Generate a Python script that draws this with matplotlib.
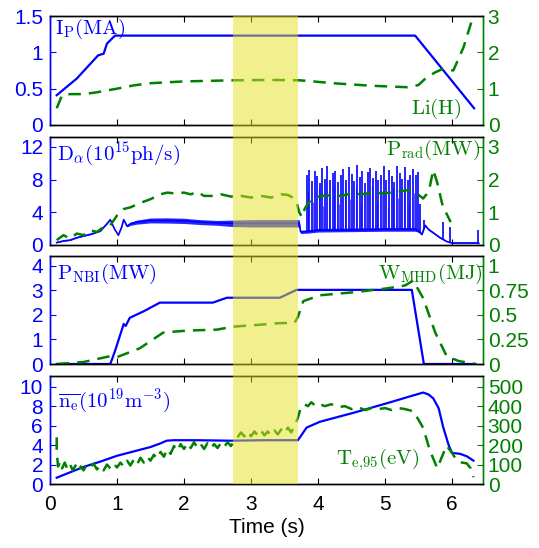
import numpy as np
import matplotlib
matplotlib.use("Agg")
import matplotlib.pyplot as plt
import matplotlib.transforms as mtransforms
from matplotlib.patches import Rectangle
from matplotlib.ticker import FormatStrFormatter

plt.rcParams['font.family'] = ['Liberation Sans', 'DejaVu Sans']
plt.rcParams['mathtext.fontset'] = 'cm'

BLUE = (0, 0, 1)
GREEN = (0, 0.5, 0)

# ---------------- data ----------------
# panel 1: plasma current (MA) and internal inductance
t_ip = [0.10, 0.40, 0.72, 0.80, 0.85, 0.97, 2.00, 5.45, 6.33]
ip = [0.41, 0.64, 0.96, 0.98, 1.12, 1.23, 1.23, 1.23, 0.23]

t_li = [0.10, 0.18, 0.30, 0.50, 0.70, 1.00, 1.25, 1.50, 2.00, 2.73, 3.30, 3.73,
        4.30, 4.80, 5.33, 5.50, 5.62, 5.75, 5.87, 6.02, 6.17, 6.30]
li = [0.46, 0.82, 0.85, 0.85, 0.90, 1.00, 1.09, 1.15, 1.20, 1.23, 1.24, 1.23,
      1.14, 1.08, 1.04, 1.10, 1.31, 1.45, 1.55, 1.50, 2.13, 2.90]

# panel 2: D-alpha (1e15 ph/s) with noise half-width, ELM spikes, Prad (MW)
t_da = [0.10, 0.20, 0.30, 0.40, 0.50, 0.60, 0.75, 0.85, 0.90, 0.96, 1.02, 1.07,
        1.10, 1.15, 1.20, 1.30, 1.50, 1.74, 2.00, 2.24, 2.50, 2.73, 3.00, 3.30,
        3.60, 3.72, 3.74, 3.85, 4.00, 4.50, 5.00, 5.45, 5.50, 5.55, 5.60, 5.65,
        5.72, 5.82, 5.93, 6.00, 6.38, 6.40]
da = [0.3, 0.5, 0.6, 0.9, 1.1, 1.3, 1.7, 2.6, 3.1, 2.0, 1.2, 2.2,
      3.1, 2.3, 2.6, 2.8, 3.0, 3.0, 2.95, 2.8, 2.7, 2.65, 2.65, 2.65,
      2.65, 2.65, 1.6, 1.65, 1.8, 1.85, 1.9, 1.9, 1.7, 1.3, 2.4, 1.9,
      1.5, 0.9, 0.4, 0.25, 0.25, 0.2]
da_noise = [0.05, 0.05, 0.05, 0.05, 0.05, 0.05, 0.05, 0.05, 0.05, 0.05, 0.05, 0.05,
            0.05, 0.1, 0.2, 0.25, 0.3, 0.32, 0.32, 0.3, 0.3, 0.4, 0.45, 0.45,
            0.45, 0.45, 0.2, 0.2, 0.22, 0.22, 0.22, 0.22, 0.15, 0.1, 0.1, 0.1,
            0.1, 0.1, 0.05, 0.05, 0.05, 0.05]

elm_t = [3.84, 3.87, 3.91, 3.95, 3.99, 4.03, 4.06, 4.10, 4.14, 4.18, 4.22, 4.26,
         4.30, 4.34, 4.38, 4.42, 4.46, 4.50, 4.54, 4.58, 4.62, 4.66, 4.70, 4.74,
         4.78, 4.82, 4.86, 4.90, 4.94, 4.98, 5.02, 5.06, 5.10, 5.14, 5.18, 5.22,
         5.26, 5.30, 5.34, 5.38, 5.42, 5.46, 5.49, 5.52, 5.58, 5.86, 5.97, 6.39]
elm_h = [8.6, 9.2, 7.8, 9.0, 8.4, 7.6, 9.4, 8.1, 9.6, 7.9, 8.8, 9.1,
         7.7, 8.5, 9.3, 8.0, 9.5, 8.7, 7.8, 9.8, 8.3, 9.0, 7.6, 8.9,
         9.4, 8.2, 9.1, 7.9, 8.6, 9.7, 8.0, 9.2, 8.4, 7.7, 9.6, 8.8,
         8.1, 9.5, 7.9, 8.6, 9.3, 8.5, 8.9, 5.0, 3.0, 2.8, 2.2, 1.8]
# smaller events between the large ELMs
elm2_t = [3.855, 3.93, 4.01, 4.08, 4.16, 4.24, 4.32, 4.40, 4.48, 4.56, 4.64,
          4.72, 4.80, 4.88, 4.96, 5.04, 5.12, 5.20, 5.28, 5.36, 5.44]
elm2_h = [6.5, 5.2, 7.0, 4.8, 6.2, 7.3, 5.0, 6.8, 5.6, 7.1, 4.9,
          6.4, 7.2, 5.3, 6.6, 4.7, 7.0, 5.8, 6.9, 5.1, 6.3]

t_prad = [0.10, 0.20, 0.30, 0.40, 0.50, 0.60, 0.70, 0.80, 0.90, 1.00, 1.10, 1.20,
          1.34, 1.50, 1.65, 1.75, 1.85, 2.00, 2.10, 2.20, 2.30, 2.44, 2.55, 2.70,
          2.85, 3.00, 3.15, 3.30, 3.45, 3.55, 3.62, 3.68, 3.72, 3.76, 3.80, 3.86,
          3.95, 4.05, 4.20, 4.35, 4.50, 4.65, 4.80, 4.95, 5.10, 5.25, 5.35, 5.45,
          5.52, 5.57, 5.62, 5.66, 5.72, 5.78, 5.86, 5.92, 5.98]
prad = [0.15, 0.30, 0.20, 0.35, 0.30, 0.45, 0.40, 0.55, 0.60, 0.90, 1.10, 1.15,
        1.28, 1.40, 1.55, 1.60, 1.58, 1.60, 1.55, 1.62, 1.50, 1.50, 1.55, 1.48,
        1.50, 1.45, 1.50, 1.45, 1.55, 1.53, 1.45, 1.30, 1.00, 0.85, 1.10, 1.30,
        1.45, 1.50, 1.52, 1.50, 1.58, 1.55, 1.60, 1.58, 1.60, 1.65, 1.68, 1.62,
        1.50, 1.42, 1.55, 1.70, 2.29, 1.90, 1.20, 0.95, 0.70]

# panel 3: NBI power (MW) and stored energy (MJ)
t_nbi = [0.10, 0.90, 0.97, 1.10, 1.13, 1.19, 1.40, 1.64, 2.43, 2.64, 3.43, 3.68,
         5.40, 5.58, 6.35]
nbi = [0.0, 0.0, 0.53, 1.63, 1.55, 1.88, 2.15, 2.50, 2.50, 2.70, 2.70, 3.02,
       3.02, 0.0, 0.0]

t_w = [0.10, 0.50, 0.90, 1.00, 1.34, 1.69, 2.04, 2.49, 2.73, 3.13, 3.39, 3.65,
       3.70, 3.78, 4.03, 4.52, 5.03, 5.30, 5.42, 5.57, 5.75, 5.92, 6.10, 6.27, 6.35]
wmhd = [0.0, 0.02, 0.08, 0.07, 0.16, 0.32, 0.34, 0.35, 0.38, 0.40, 0.415, 0.42,
        0.48, 0.64, 0.70, 0.73, 0.77, 0.80, 0.85, 0.67, 0.32, 0.08, 0.03, 0.01, 0.0]

# panel 4: line averaged density (1e19 m^-3) and pedestal temperature (eV)
t_ne = [0.10, 0.30, 0.50, 0.75, 1.00, 1.25, 1.50, 1.64, 1.74, 1.85, 2.20, 2.70,
        3.20, 3.70, 3.75, 3.83, 4.03, 4.52, 5.03, 5.37, 5.57, 5.65, 5.72, 5.80,
        5.87, 5.95, 6.00, 6.12, 6.22, 6.32]
ne = [0.65, 1.2, 1.75, 2.3, 2.9, 3.35, 3.8, 4.15, 4.45, 4.5, 4.5, 4.45,
      4.5, 4.5, 5.0, 5.8, 6.4, 7.3, 8.3, 9.0, 9.4, 9.2, 8.8, 7.8,
      5.8, 4.0, 3.2, 3.1, 2.85, 2.4]

t_te = [0.10, 0.10, 0.12, 0.15, 0.18, 0.22, 0.26, 0.30, 0.34, 0.38, 0.42, 0.46,
        0.50, 0.55, 0.60, 0.65, 0.70, 0.75, 0.80, 0.85, 0.90, 0.95, 1.00, 1.05,
        1.10, 1.15, 1.20, 1.25, 1.30, 1.35, 1.40, 1.45, 1.50, 1.55, 1.60, 1.65,
        1.70, 1.75, 1.80, 1.85, 1.90, 1.95, 2.00, 2.05, 2.10, 2.15, 2.20, 2.25,
        2.30, 2.35, 2.40, 2.45, 2.50, 2.55, 2.60, 2.65, 2.70, 2.75, 2.80, 2.85,
        2.90, 2.95, 3.00, 3.05, 3.10, 3.15, 3.20, 3.25, 3.30, 3.35, 3.40, 3.45,
        3.50, 3.55, 3.60, 3.65, 3.70, 3.74, 3.80, 3.85, 3.90, 3.95, 4.00, 4.10,
        4.20, 4.30, 4.40, 4.50, 4.60, 4.70, 4.80, 4.90, 5.00, 5.10, 5.20, 5.30,
        5.42, 5.50, 5.57, 5.67, 5.78, 5.85, 5.92, 6.00, 6.07, 6.15, 6.22, 6.28, 6.32]
te = [240, 170, 90, 115, 80, 110, 75, 100, 70, 95, 65, 90,
      70, 100, 85, 105, 75, 95, 70, 100, 80, 105, 85, 110,
      90, 120, 95, 125, 100, 135, 110, 140, 120, 150, 130, 165,
      140, 180, 155, 195, 170, 205, 180, 210, 185, 215, 185, 205,
      180, 210, 185, 205, 185, 210, 190, 215, 195, 220, 240, 265,
      245, 270, 245, 270, 250, 275, 250, 270, 250, 275, 255, 280,
      260, 290, 265, 300, 340, 390, 410, 400, 420, 405, 415, 400,
      410, 395, 400, 385, 395, 380, 390, 385, 390, 380, 390, 385,
      374, 330, 288, 172, 81, 140, 197, 160, 121, 110, 106, 80, 35]

# ---------------- figure ----------------
fig = plt.figure(figsize=(5.39, 5.48), dpi=100)

W, H = 539.0, 548.0
left_px, right_px = 50.0, 483.5
panels_px = [(16, 125), (137, 245), (256, 364), (376, 484)]

axes = []
for top, bot in panels_px:
    ax = fig.add_axes([left_px / W, 1 - bot / H, (right_px - left_px) / W, (bot - top) / H])
    axr = ax.twinx()
    axes.append((ax, axr))


def style(ax, axr, ylim_l, ticks_l, ylim_r, ticks_r, xlabels):
    ax.set_xlim(0, 6.47)
    ax.set_xticks(range(7))
    ax.set_ylim(*ylim_l)
    ax.set_yticks(ticks_l)
    axr.set_ylim(*ylim_r)
    axr.set_yticks(ticks_r)
    ax.yaxis.set_major_formatter(FormatStrFormatter('%g'))
    axr.yaxis.set_major_formatter(FormatStrFormatter('%g'))
    ax.tick_params(axis='x', direction='in', top=True, length=4, width=0.8,
                   labelsize=15, pad=8, labelbottom=xlabels)
    ax.tick_params(axis='y', direction='in', length=4, width=0.8, colors=BLUE,
                   labelsize=15, pad=5)
    axr.tick_params(axis='y', direction='in', length=4, width=0.8, colors=GREEN,
                    labelsize=15, pad=3)
    for a in (ax, axr):
        for s in a.spines.values():
            s.set_linewidth(1.0)
        a.spines['left'].set_color(BLUE)
        a.spines['right'].set_color(GREEN)


lw_b = 1.6
lw_g = 1.8
dash = (5, 3.2)

# panel 1
ax, axr = axes[0]
ax.plot(t_ip, ip, color=BLUE, lw=lw_b)
axr.plot(t_li, li, color=GREEN, lw=lw_g, dashes=dash)
style(ax, axr, (0, 1.5), [0, 0.5, 1, 1.5], (0, 3), [0, 1, 2, 3], False)
ax.text(0.012, 0.995, r'$\mathrm{I_P(MA)}$', transform=ax.transAxes,
        color=BLUE, fontsize=15, ha='left', va='top')
ax.text(0.95, 0.04, r'$\mathrm{Li(H)}$', transform=ax.transAxes,
        color=GREEN, fontsize=15, ha='right', va='bottom')

# panel 2
ax, axr = axes[1]
da_arr = np.array(da)
noise = np.array(da_noise)
ax.fill_between(t_da, da_arr - noise, da_arr + noise, color=BLUE, lw=0, alpha=0.85)
ax.plot(t_da, da, color=BLUE, lw=1.2)
elm_base = np.interp(elm_t, t_da, da)
ax.vlines(elm_t, elm_base, elm_h, color=BLUE, lw=1.2)
elm2_base = np.interp(elm2_t, t_da, da)
ax.vlines(elm2_t, elm2_base, elm2_h, color=BLUE, lw=0.8, alpha=0.6)
axr.plot(t_prad, prad, color=GREEN, lw=lw_g, dashes=dash)
style(ax, axr, (0, 13.2), [0, 4, 8, 12], (0, 3.3), [0, 1, 2, 3], False)
ax.text(0.016, 0.98, r'$\mathrm{D_\alpha(10^{15}ph/s)}$', transform=ax.transAxes,
        color=BLUE, fontsize=15, ha='left', va='top')
ax.text(0.993, 0.995, r'$\mathrm{P_{rad}(MW)}$', transform=ax.transAxes,
        color=GREEN, fontsize=15, ha='right', va='top')

# panel 3
ax, axr = axes[2]
ax.plot(t_nbi, nbi, color=BLUE, lw=lw_b)
axr.plot(t_w, wmhd, color=GREEN, lw=lw_g, dashes=dash)
style(ax, axr, (0, 4.4), [0, 1, 2, 3, 4], (0, 1.1), [0, 0.25, 0.5, 0.75, 1], False)
ax.text(0.016, 0.945, r'$\mathrm{P_{NBI}(MW)}$', transform=ax.transAxes,
        color=BLUE, fontsize=15, ha='left', va='top')
ax.text(0.998, 0.945, r'$\mathrm{W_{MHD}(MJ)}$', transform=ax.transAxes,
        color=GREEN, fontsize=15, ha='right', va='top')

# panel 4
ax, axr = axes[3]
ax.plot(t_ne, ne, color=BLUE, lw=lw_b)
axr.plot(t_te, te, color=GREEN, lw=lw_g, dashes=dash)
style(ax, axr, (0, 11.1), [0, 2, 4, 6, 8, 10], (0, 555), [0, 100, 200, 300, 400, 500], True)
ax.text(0.018, 0.9, r'$\mathrm{\overline{n_e}(10^{19}m^{-3})}$', transform=ax.transAxes,
        color=BLUE, fontsize=15, ha='left', va='top')
ax.text(0.853, 0.1, r'$\mathrm{T_{e{,}95}(eV)}$', transform=ax.transAxes,
        color=GREEN, fontsize=15, ha='right', va='bottom')
ax.set_xlabel('Time (s)', fontsize=15, labelpad=3)

# highlighted time window spanning all panels
trans = mtransforms.blended_transform_factory(ax.transData, fig.transFigure)
y0 = 1 - panels_px[-1][1] / H
y1 = 1 - panels_px[0][0] / H
fig.patches.append(Rectangle((2.73, y0), 3.70 - 2.73, y1 - y0, transform=trans,
                             facecolor='#e6e020', alpha=0.5, lw=0, zorder=5))

fig.savefig('out.png', dpi=100)
